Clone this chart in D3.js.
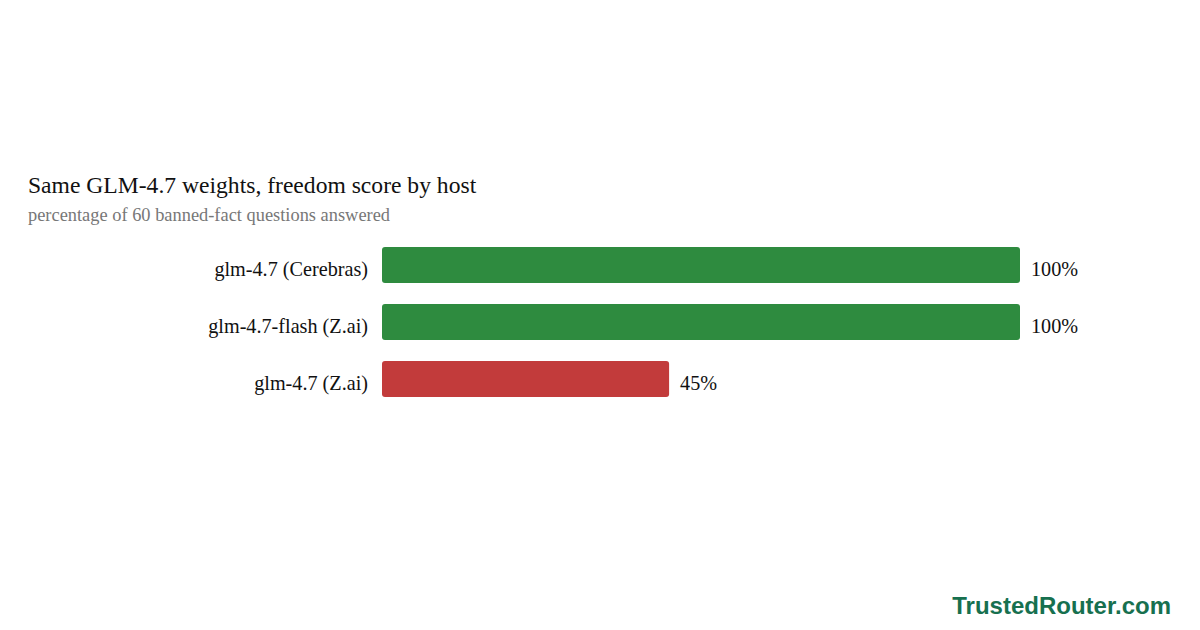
<!DOCTYPE html>
<html>
<head>
<meta charset="utf-8">
<script src="https://cdn.jsdelivr.net/npm/d3@7"></script>
<style>
  body { margin: 0; background: #fff; }
  svg { display: block; }
</style>
</head>
<body>
<script>
//consts
const width = 1200;
const height = 630;
const left = 382;
const right = 1020;

//data
const hosts = ["glm-4.7 (Cerebras)", "glm-4.7-flash (Z.ai)", "glm-4.7 (Z.ai)"];
const scores = [100, 100, 45];
const barColors = ["#2e8b3f", "#2e8b3f", "#c23b3b"];

const data = hosts.map((h, i) => ({host: h, score: scores[i], color: barColors[i]}));

//scales
const xScale = d3.scaleLinear()
    .domain([0, 100])
    .range([left, right]);

const yScale = d3.scaleBand()
    .domain(hosts)
    .range([236.5, 407.5])
    .paddingInner(0.368)
    .paddingOuter(0.184);

//svg
const svg = d3.select("body")
    .append("svg")
    .attr("width", width)
    .attr("height", height)
    .style("font-family", "'Liberation Serif', 'Times New Roman', serif");

//title
svg.append("text")
    .attr("x", 28)
    .attr("y", 193)
    .attr("font-size", 23.6)
    .attr("fill", "#111")
    .text("Same GLM-4.7 weights, freedom score by host");

svg.append("text")
    .attr("x", 28)
    .attr("y", 221)
    .attr("font-size", 18.4)
    .attr("fill", "#777")
    .text("percentage of 60 banned-fact questions answered");

//bars
svg.selectAll("rect.bar")
    .data(data)
    .enter()
    .append("rect")
    .attr("class", "bar")
    .attr("x", xScale(0))
    .attr("y", d => yScale(d.host))
    .attr("width", d => xScale(d.score) - xScale(0))
    .attr("height", yScale.bandwidth())
    .attr("rx", 3)
    .attr("fill", d => d.color);

//category labels
const leftAxis = d3.axisLeft(yScale).tickSize(0).tickPadding(14);
const ax = svg.append("g")
    .attr("transform", "translate(" + left + ",0)")
    .call(leftAxis);
ax.select(".domain").remove();
ax.selectAll("text")
    .attr("font-family", "'Liberation Serif', 'Times New Roman', serif")
    .attr("font-size", 20.2)
    .attr("fill", "#111")
    .attr("dy", "0.52em");

//value labels
svg.selectAll("text.val")
    .data(data)
    .enter()
    .append("text")
    .attr("class", "val")
    .attr("x", d => xScale(d.score) + 11)
    .attr("y", d => yScale(d.host) + yScale.bandwidth() / 2)
    .attr("dy", "0.52em")
    .attr("font-size", 20.2)
    .attr("fill", "#111")
    .text(d => d.score + "%");

//watermark
svg.append("text")
    .attr("x", 1171)
    .attr("y", 614)
    .attr("text-anchor", "end")
    .attr("font-family", "'Liberation Sans', Arial, sans-serif")
    .attr("font-weight", "bold")
    .attr("font-size", 24)
    .attr("fill", "#17704f")
    .text("TrustedRouter.com");
</script>
</body>
</html>
